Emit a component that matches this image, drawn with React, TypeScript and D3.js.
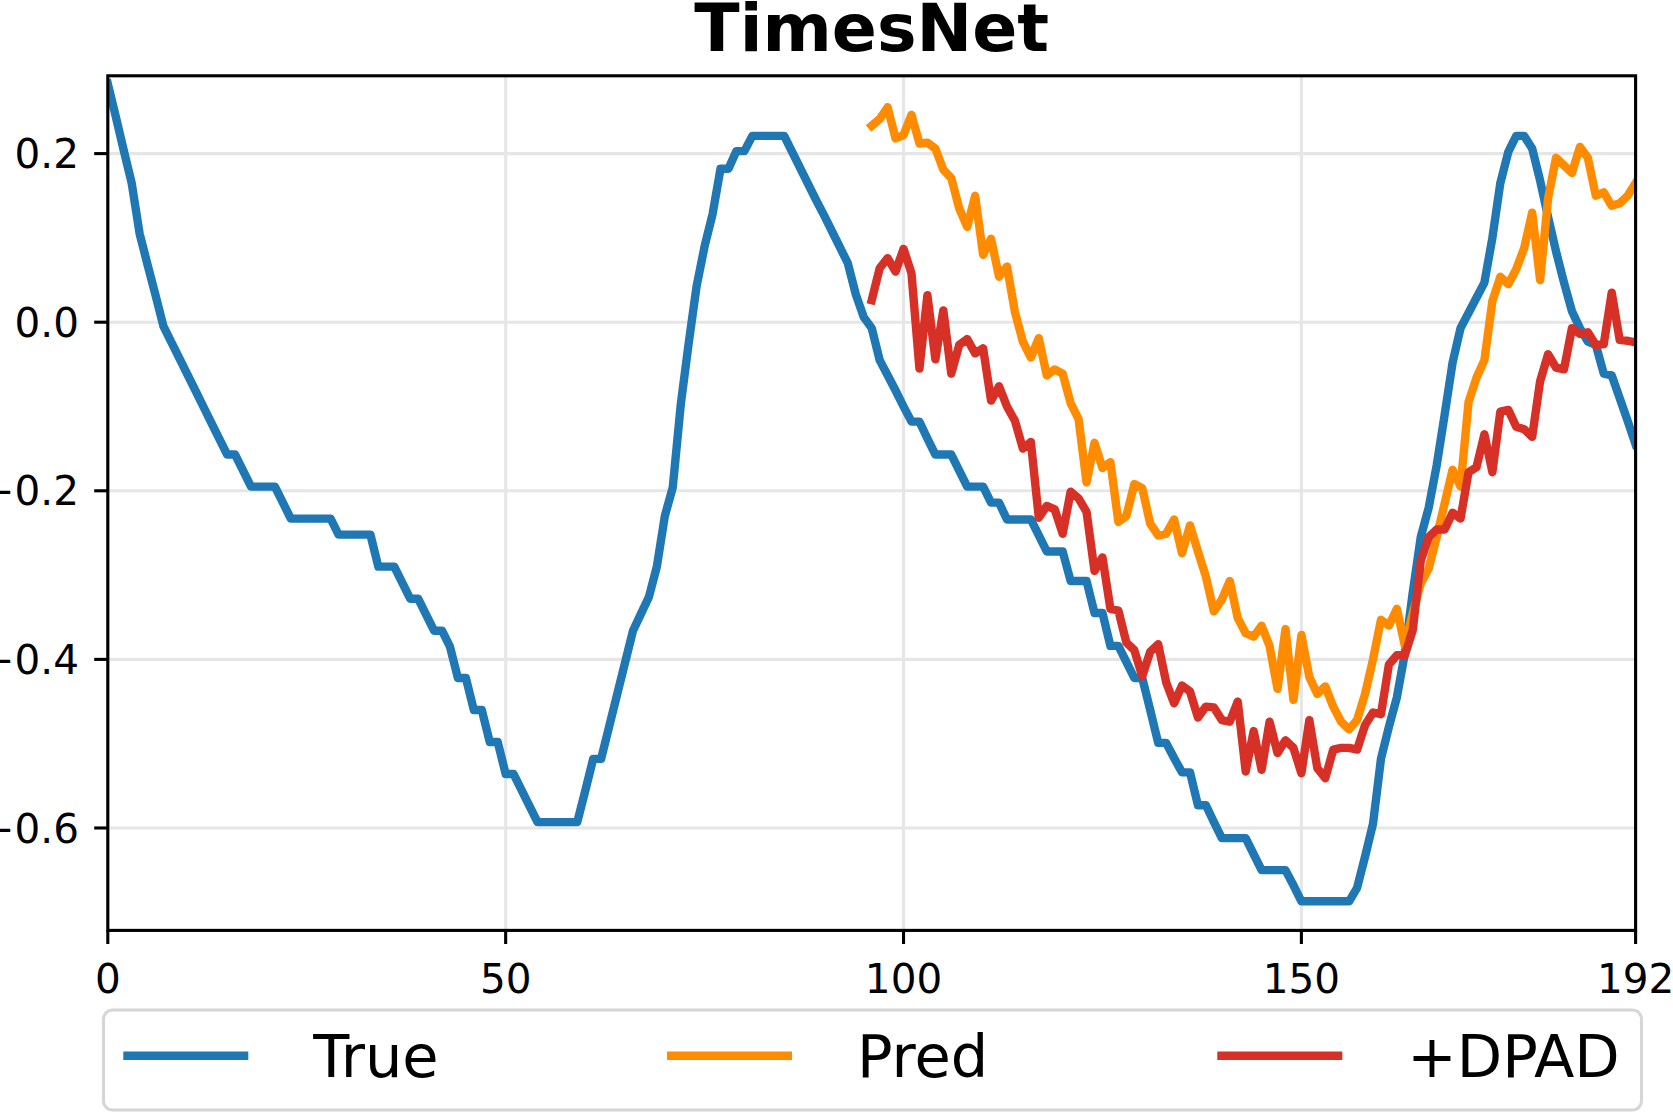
import React from "react";
import * as d3 from "d3";

const W = 1673;
const H = 1115;

const trueX = d3.range(0, 193);
const trueY = [
  0.283, 0.244, 0.204, 0.165, 0.105, 0.068, 0.032, -0.005, -0.024, -0.043,
  -0.062, -0.081, -0.1, -0.119, -0.138, -0.157, -0.157, -0.176, -0.195, -0.195,
  -0.195, -0.195, -0.214, -0.233, -0.233, -0.233, -0.233, -0.233, -0.233, -0.252,
  -0.252, -0.252, -0.252, -0.252, -0.29, -0.29, -0.29, -0.309, -0.328, -0.328,
  -0.347, -0.366, -0.366, -0.385, -0.422, -0.422, -0.46, -0.46, -0.498, -0.498,
  -0.536, -0.536, -0.555, -0.574, -0.593, -0.593, -0.593, -0.593, -0.593, -0.593,
  -0.556, -0.518, -0.518, -0.48, -0.442, -0.404, -0.366, -0.346, -0.326, -0.29,
  -0.23, -0.196, -0.098, -0.025, 0.043, 0.09, 0.128, 0.182, 0.182, 0.203,
  0.203, 0.221, 0.221, 0.221, 0.221, 0.221, 0.202, 0.183, 0.164, 0.145,
  0.127, 0.108, 0.089, 0.07, 0.033, 0.006, -0.007, -0.045, -0.063, -0.081,
  -0.1, -0.118, -0.118, -0.138, -0.157, -0.157, -0.157, -0.176, -0.195, -0.195,
  -0.195, -0.214, -0.214, -0.234, -0.234, -0.234, -0.234, -0.253, -0.272, -0.272,
  -0.272, -0.307, -0.307, -0.307, -0.345, -0.345, -0.384, -0.384, -0.403, -0.422,
  -0.422, -0.46, -0.499, -0.499, -0.517, -0.534, -0.534, -0.573, -0.573, -0.593,
  -0.612, -0.612, -0.612, -0.612, -0.631, -0.65, -0.65, -0.65, -0.65, -0.668,
  -0.687, -0.687, -0.687, -0.687, -0.687, -0.687, -0.687, -0.671, -0.634, -0.595,
  -0.518, -0.48, -0.445, -0.393, -0.32, -0.255, -0.22, -0.17, -0.11, -0.048,
  -0.007, 0.011, 0.029, 0.047, 0.1, 0.165, 0.202, 0.221, 0.221, 0.206,
  0.168, 0.125, 0.084, 0.047, 0.013, -0.007, -0.023, -0.027, -0.061, -0.063,
  -0.09, -0.117, -0.145,
];

const predX = d3.range(96, 193);
const predY = [
  0.233, 0.241, 0.255, 0.218, 0.222, 0.246, 0.212, 0.213, 0.206, 0.181,
  0.171, 0.135, 0.113, 0.15, 0.08, 0.099, 0.054, 0.066, 0.012, -0.023,
  -0.042, -0.019, -0.063, -0.056, -0.061, -0.096, -0.115, -0.19, -0.143, -0.173,
  -0.166, -0.237, -0.23, -0.192, -0.197, -0.239, -0.253, -0.251, -0.234, -0.274,
  -0.241, -0.272, -0.302, -0.343, -0.329, -0.307, -0.351, -0.369, -0.373, -0.36,
  -0.384, -0.435, -0.364, -0.448, -0.371, -0.421, -0.441, -0.432, -0.456, -0.474,
  -0.483, -0.472, -0.441, -0.4, -0.353, -0.36, -0.34, -0.384, -0.345, -0.31,
  -0.292, -0.255, -0.215, -0.175, -0.195, -0.095, -0.066, -0.045, 0.025, 0.054,
  0.045, 0.063, 0.088, 0.13, 0.05, 0.147, 0.195, 0.186, 0.177, 0.208,
  0.195, 0.15, 0.154, 0.138, 0.141, 0.15, 0.165,
];

const dpadX = d3.range(96, 193);
const dpadY = [
  0.026, 0.064, 0.076, 0.06, 0.087, 0.058, -0.055, 0.032, -0.044, 0.014,
  -0.061, -0.027, -0.02, -0.037, -0.031, -0.093, -0.076, -0.1, -0.117, -0.15,
  -0.142, -0.232, -0.218, -0.222, -0.251, -0.201, -0.209, -0.225, -0.295, -0.279,
  -0.34, -0.342, -0.38, -0.389, -0.42, -0.391, -0.382, -0.427, -0.452, -0.431,
  -0.438, -0.469, -0.456, -0.457, -0.472, -0.474, -0.45, -0.533, -0.485, -0.531,
  -0.474, -0.511, -0.496, -0.505, -0.535, -0.472, -0.529, -0.541, -0.507, -0.505,
  -0.505, -0.507, -0.478, -0.463, -0.465, -0.406, -0.395, -0.395, -0.365, -0.283,
  -0.255, -0.246, -0.246, -0.226, -0.233, -0.178, -0.172, -0.133, -0.178, -0.106,
  -0.104, -0.124, -0.127, -0.136, -0.07, -0.038, -0.054, -0.056, -0.007, -0.014,
  -0.012, -0.027, -0.026, 0.035, -0.021, -0.022, -0.024,
];

const xTicks = [0, 50, 100, 150, 192];
const yTicks = [-0.6, -0.4, -0.2, 0.0, 0.2];
const seriesNames = ["True", "Pred", "+DPAD"];
const seriesColors = ["#1f77b4", "#ff8c00", "#d73027"];
const titleText = "TimesNet";

const FONT = "'DejaVu Sans', 'Liberation Sans', sans-serif";

export default function App() {
  const left = 107.8;
  const right = 1635.6;
  const top = 75.8;
  const bottom = 930.4;

  const x = d3.scaleLinear().domain([0, 192]).range([left, right]);
  const y = d3.scaleLinear().domain([-0.7215, 0.2923]).range([bottom, top]);

  const line = d3
    .line<[number, number]>()
    .x((d) => x(d[0]))
    .y((d) => y(d[1]));

  const series = [
    trueX.map((v, i) => [v, trueY[i]] as [number, number]),
    predX.map((v, i) => [v, predY[i]] as [number, number]),
    dpadX.map((v, i) => [v, dpadY[i]] as [number, number]),
  ];

  const fmt = d3.format(".1f");
  const gridColor = "#e6e6e6";
  const lw = 8.4;
  const spineW = 3.1;
  const tickLen = 13.6;
  const tickFont = 40.5;

  const legendHandleStarts = [123.3, 667, 1217.3];

  return (
    <svg
      width={W}
      height={H}
      style={{ position: "absolute", left: 0, top: 0, background: "#fff" }}
      fontFamily={FONT}
    >
      <rect x={0} y={0} width={W} height={H} fill="#fff" />
      <defs>
        <clipPath id="plotClip">
          <rect x={left} y={top} width={right - left} height={bottom - top} />
        </clipPath>
      </defs>

      {/* grid */}
      <g>
        {xTicks.map((t) => (
          <line
            key={"gx" + t}
            x1={x(t)}
            x2={x(t)}
            y1={top}
            y2={bottom}
            stroke={gridColor}
            strokeWidth={3.1}
          />
        ))}
        {yTicks.map((t) => (
          <line
            key={"gy" + t}
            x1={left}
            x2={right}
            y1={y(t)}
            y2={y(t)}
            stroke={gridColor}
            strokeWidth={3.1}
          />
        ))}
      </g>

      {/* series */}
      <g clipPath="url(#plotClip)">
        {series.map((s, i) => (
          <path
            key={"s" + i}
            d={line(s) || ""}
            fill="none"
            stroke={seriesColors[i]}
            strokeWidth={lw}
            strokeLinejoin="round"
            strokeLinecap="square"
          />
        ))}
      </g>

      {/* spines */}
      <rect
        x={left}
        y={top}
        width={right - left}
        height={bottom - top}
        fill="none"
        stroke="#000"
        strokeWidth={spineW}
      />

      {/* x ticks */}
      {xTicks.map((t) => (
        <g key={"xt" + t}>
          <line
            x1={x(t)}
            x2={x(t)}
            y1={bottom}
            y2={bottom + tickLen}
            stroke="#000"
            strokeWidth={spineW}
          />
          <text
            x={x(t)}
            y={992.5}
            textAnchor="middle"
            fontSize={tickFont}
            fill="#000"
          >
            {String(t)}
          </text>
        </g>
      ))}

      {/* y ticks */}
      {yTicks.map((t) => (
        <g key={"yt" + t}>
          <line
            x1={left - tickLen}
            x2={left}
            y1={y(t)}
            y2={y(t)}
            stroke="#000"
            strokeWidth={spineW}
          />
          <text
            x={79}
            y={y(t) + 14.6}
            textAnchor="end"
            fontSize={tickFont}
            fill="#000"
          >
            {fmt(t)}
          </text>
        </g>
      ))}

      {/* title */}
      <text
        x={(left + right) / 2}
        y={50.5}
        textAnchor="middle"
        fontSize={66.5}
        fontWeight="bold"
        fill="#000"
      >
        {titleText}
      </text>

      {/* legend */}
      <rect
        x={103.5}
        y={1010}
        width={1538}
        height={100}
        rx={9}
        ry={9}
        fill="#fff"
        stroke="#d6d6d6"
        strokeWidth={3.1}
      />
      {seriesNames.map((name, i) => (
        <g key={"lg" + i}>
          <line
            x1={legendHandleStarts[i]}
            x2={legendHandleStarts[i] + 125}
            y1={1055.8}
            y2={1055.8}
            stroke={seriesColors[i]}
            strokeWidth={lw}
          />
          <text
            x={legendHandleStarts[i] + 125 + 65}
            y={1076.7}
            fontSize={59}
            fill="#000"
          >
            {name}
          </text>
        </g>
      ))}
    </svg>
  );
}
